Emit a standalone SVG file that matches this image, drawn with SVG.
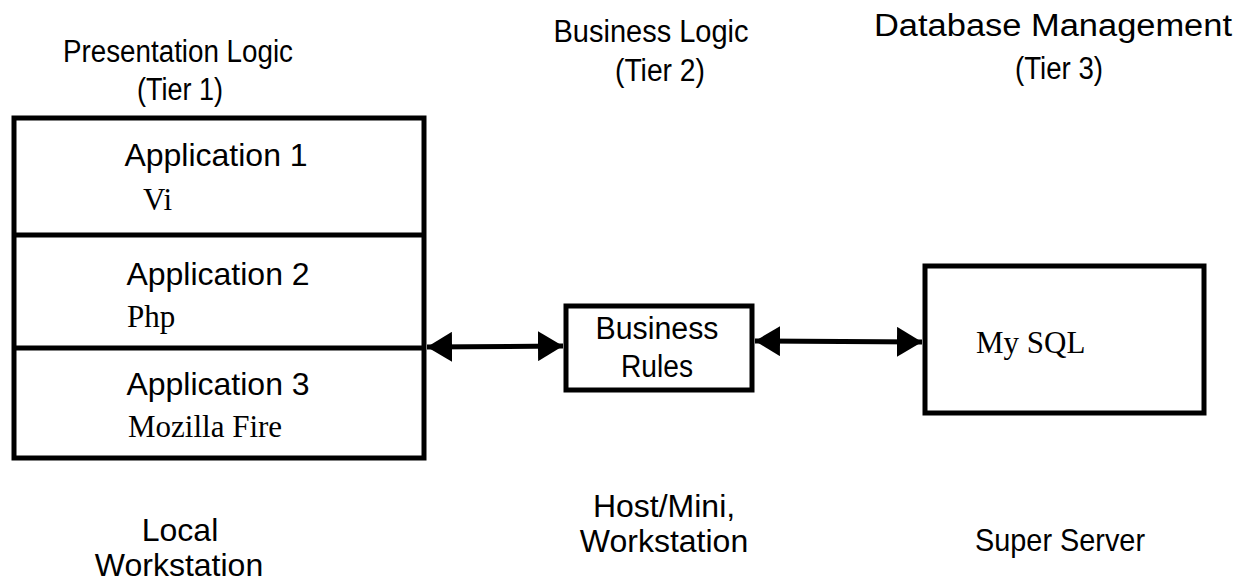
<svg xmlns="http://www.w3.org/2000/svg" width="1243" height="582" viewBox="0 0 1243 582">
<defs>
<style>
.s{font-family:"Liberation Sans",Arial,sans-serif;fill:#000}
.h{font-size:31px}
.a{font-size:32px}
.b{font-size:31px}
.r{font-family:"Liberation Serif","Times New Roman",serif;font-size:31px;fill:#000}
.box{fill:#fff;stroke:#000;stroke-width:5}
.ln{stroke:#000;stroke-width:5;fill:none}
</style>
<marker id="ah" markerWidth="6" markerHeight="6" refX="5" refY="3" orient="auto-start-reverse" markerUnits="strokeWidth">
<path d="M0,0 L5,3 L0,6 Z" fill="#000"/>
</marker>
</defs>
<rect width="1243" height="582" fill="#fff"/>
<g id="headers" class="s h" text-anchor="middle" lengthAdjust="spacingAndGlyphs">
<text x="178" y="62" textLength="230" lengthAdjust="spacingAndGlyphs">Presentation Logic</text>
<text x="180" y="100" textLength="86" lengthAdjust="spacingAndGlyphs">(Tier 1)</text>
<text x="651" y="42" textLength="195" lengthAdjust="spacingAndGlyphs">Business Logic</text>
<text x="660" y="81" textLength="90" lengthAdjust="spacingAndGlyphs">(Tier 2)</text>
<text x="1053" y="36" textLength="358" lengthAdjust="spacingAndGlyphs">Database Management</text>
<text x="1059" y="79" textLength="88" lengthAdjust="spacingAndGlyphs">(Tier 3)</text>
</g>
<g id="local-workstation">
<rect class="box" x="14" y="118" width="410" height="340"/>
<line class="ln" x1="14" y1="235" x2="424" y2="235"/>
<line class="ln" x1="14" y1="348" x2="424" y2="348"/>
<text class="s a" x="216" y="166" text-anchor="middle">Application 1</text>
<text class="r" x="143" y="210">Vi</text>
<text class="s a" x="218" y="285" text-anchor="middle">Application 2</text>
<text class="r" x="127" y="327">Php</text>
<text class="s a" x="218" y="395" text-anchor="middle">Application 3</text>
<text class="r" x="128" y="437">Mozilla Fire</text>
</g>
<g id="business-rules">
<rect class="box" x="566" y="306" width="186" height="84"/>
<text class="s b" x="657" y="339" text-anchor="middle" textLength="123" lengthAdjust="spacingAndGlyphs">Business</text>
<text class="s b" x="657" y="377" text-anchor="middle" textLength="72" lengthAdjust="spacingAndGlyphs">Rules</text>
</g>
<g id="super-server">
<rect class="box" x="925" y="266" width="279" height="147"/>
<text class="r" x="976" y="353" font-size="32">My SQL</text>
</g>
<g id="connectors">
<line class="ln" x1="427" y1="347" x2="563" y2="346" stroke-width="6" marker-start="url(#ah)" marker-end="url(#ah)"/>
<line class="ln" x1="755" y1="341" x2="922" y2="342" stroke-width="6" marker-start="url(#ah)" marker-end="url(#ah)"/>
</g>
<g id="footers" class="s a" text-anchor="middle">
<text x="180" y="541">Local</text>
<text x="179" y="576">Workstation</text>
<text x="664" y="517">Host/Mini,</text>
<text x="664" y="552">Workstation</text>
<text x="1060" y="551" textLength="170" lengthAdjust="spacingAndGlyphs">Super Server</text>
</g>
</svg>
